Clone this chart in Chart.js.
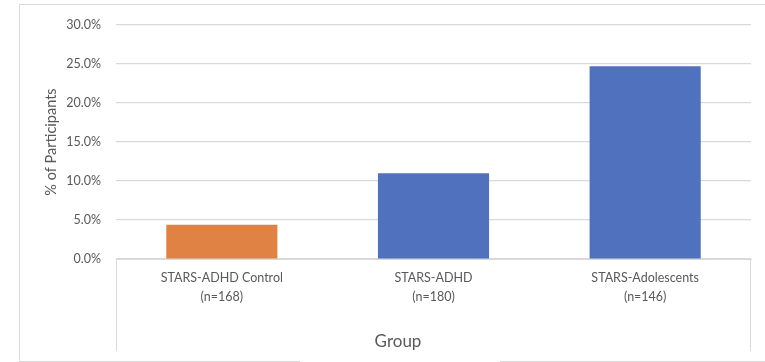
<!DOCTYPE html>
<html>
<head>
<meta charset="utf-8">
<script src="https://cdn.jsdelivr.net/npm/chart.js@4.4.1/dist/chart.umd.min.js"></script>
<style>
  html, body { margin: 0; padding: 0; background: #ffffff; }
  #wrap { width: 765px; height: 362px; position: relative; }
</style>
</head>
<body>
<div id="wrap"><canvas id="chart" width="765" height="362"></canvas></div>
<script>
// Share of participants per study group (percent)
const groups = [
  ['STARS-ADHD Control', '(n=168)'],
  ['STARS-ADHD', '(n=180)'],
  ['STARS-Adolescents', '(n=146)']
];
const percentages = [4.4, 11.0, 24.7];
const yTickMax = 30;
const yTickStep = 5;

const ORANGE = '#DF8244';
const BLUE = '#4F71BE';
const GRID = '#d9d9d9';
const TEXT = '#595959';
const FONT = 'Lato, "Open Sans", "Liberation Sans", sans-serif';

// Frame, category box edges and axis titles
const decorations = {
  id: 'decorations',
  afterDraw(chart) {
    const ctx = chart.ctx;
    const a = chart.chartArea;
    ctx.save();
    ctx.strokeStyle = GRID;
    ctx.lineWidth = 1;
    // outer frame
    ctx.beginPath();
    ctx.moveTo(19.5, 361.5); ctx.lineTo(19.5, 4.5); ctx.lineTo(765, 4.5);
    ctx.moveTo(19.5, 361.5); ctx.lineTo(300, 361.5);
    ctx.moveTo(500, 361.5); ctx.lineTo(765, 361.5);
    ctx.stroke();
    // category box sides below the axis
    ctx.beginPath();
    ctx.moveTo(Math.round(a.left) + 0.5, a.bottom); ctx.lineTo(Math.round(a.left) + 0.5, 351);
    ctx.moveTo(Math.round(a.right) - 0.5, a.bottom); ctx.lineTo(Math.round(a.right) - 0.5, 351);
    ctx.stroke();
    // axis titles
    ctx.fillStyle = TEXT;
    ctx.textAlign = 'center';
    ctx.textBaseline = 'middle';
    ctx.font = '17px ' + FONT;
    ctx.fillText('Group', 398, 342);
    ctx.translate(51, (a.top + a.bottom) / 2);
    ctx.rotate(-Math.PI / 2);
    ctx.font = '14.5px ' + FONT;
    ctx.fillText('% of Participants', 0, 0);
    ctx.restore();
  }
};

new Chart(document.getElementById('chart'), {
  type: 'bar',
  data: {
    labels: groups,
    datasets: [{
      data: percentages,
      backgroundColor: [ORANGE, BLUE, BLUE],
      borderWidth: 0,
      barPercentage: 0.525,
      categoryPercentage: 1.0
    }]
  },
  options: {
    responsive: false,
    animation: false,
    devicePixelRatio: 1,
    layout: { padding: { top: 25, right: 14, left: 0, bottom: 0 } },
    plugins: {
      legend: { display: false },
      tooltip: { enabled: false }
    },
    scales: {
      x: {
        grid: { display: false, drawTicks: false },
        border: { display: true, color: GRID, width: 1 },
        ticks: {
          color: TEXT,
          font: { family: FONT, size: 12.5, lineHeight: 1.55 },
          padding: 9,
          maxRotation: 0,
          autoSkip: false
        },
        afterFit(scale) { scale.height = 103; }
      },
      y: {
        min: 0,
        max: yTickMax,
        grid: { color: GRID, lineWidth: 1.2, drawTicks: false },
        border: { display: false },
        ticks: {
          stepSize: yTickStep,
          color: TEXT,
          padding: 15,
          font: { family: FONT, size: 12.5 },
          callback: v => v.toFixed(1) + '%'
        },
        afterFit(scale) { scale.width = 116; }
      }
    }
  },
  plugins: [decorations]
});
</script>
</body>
</html>
